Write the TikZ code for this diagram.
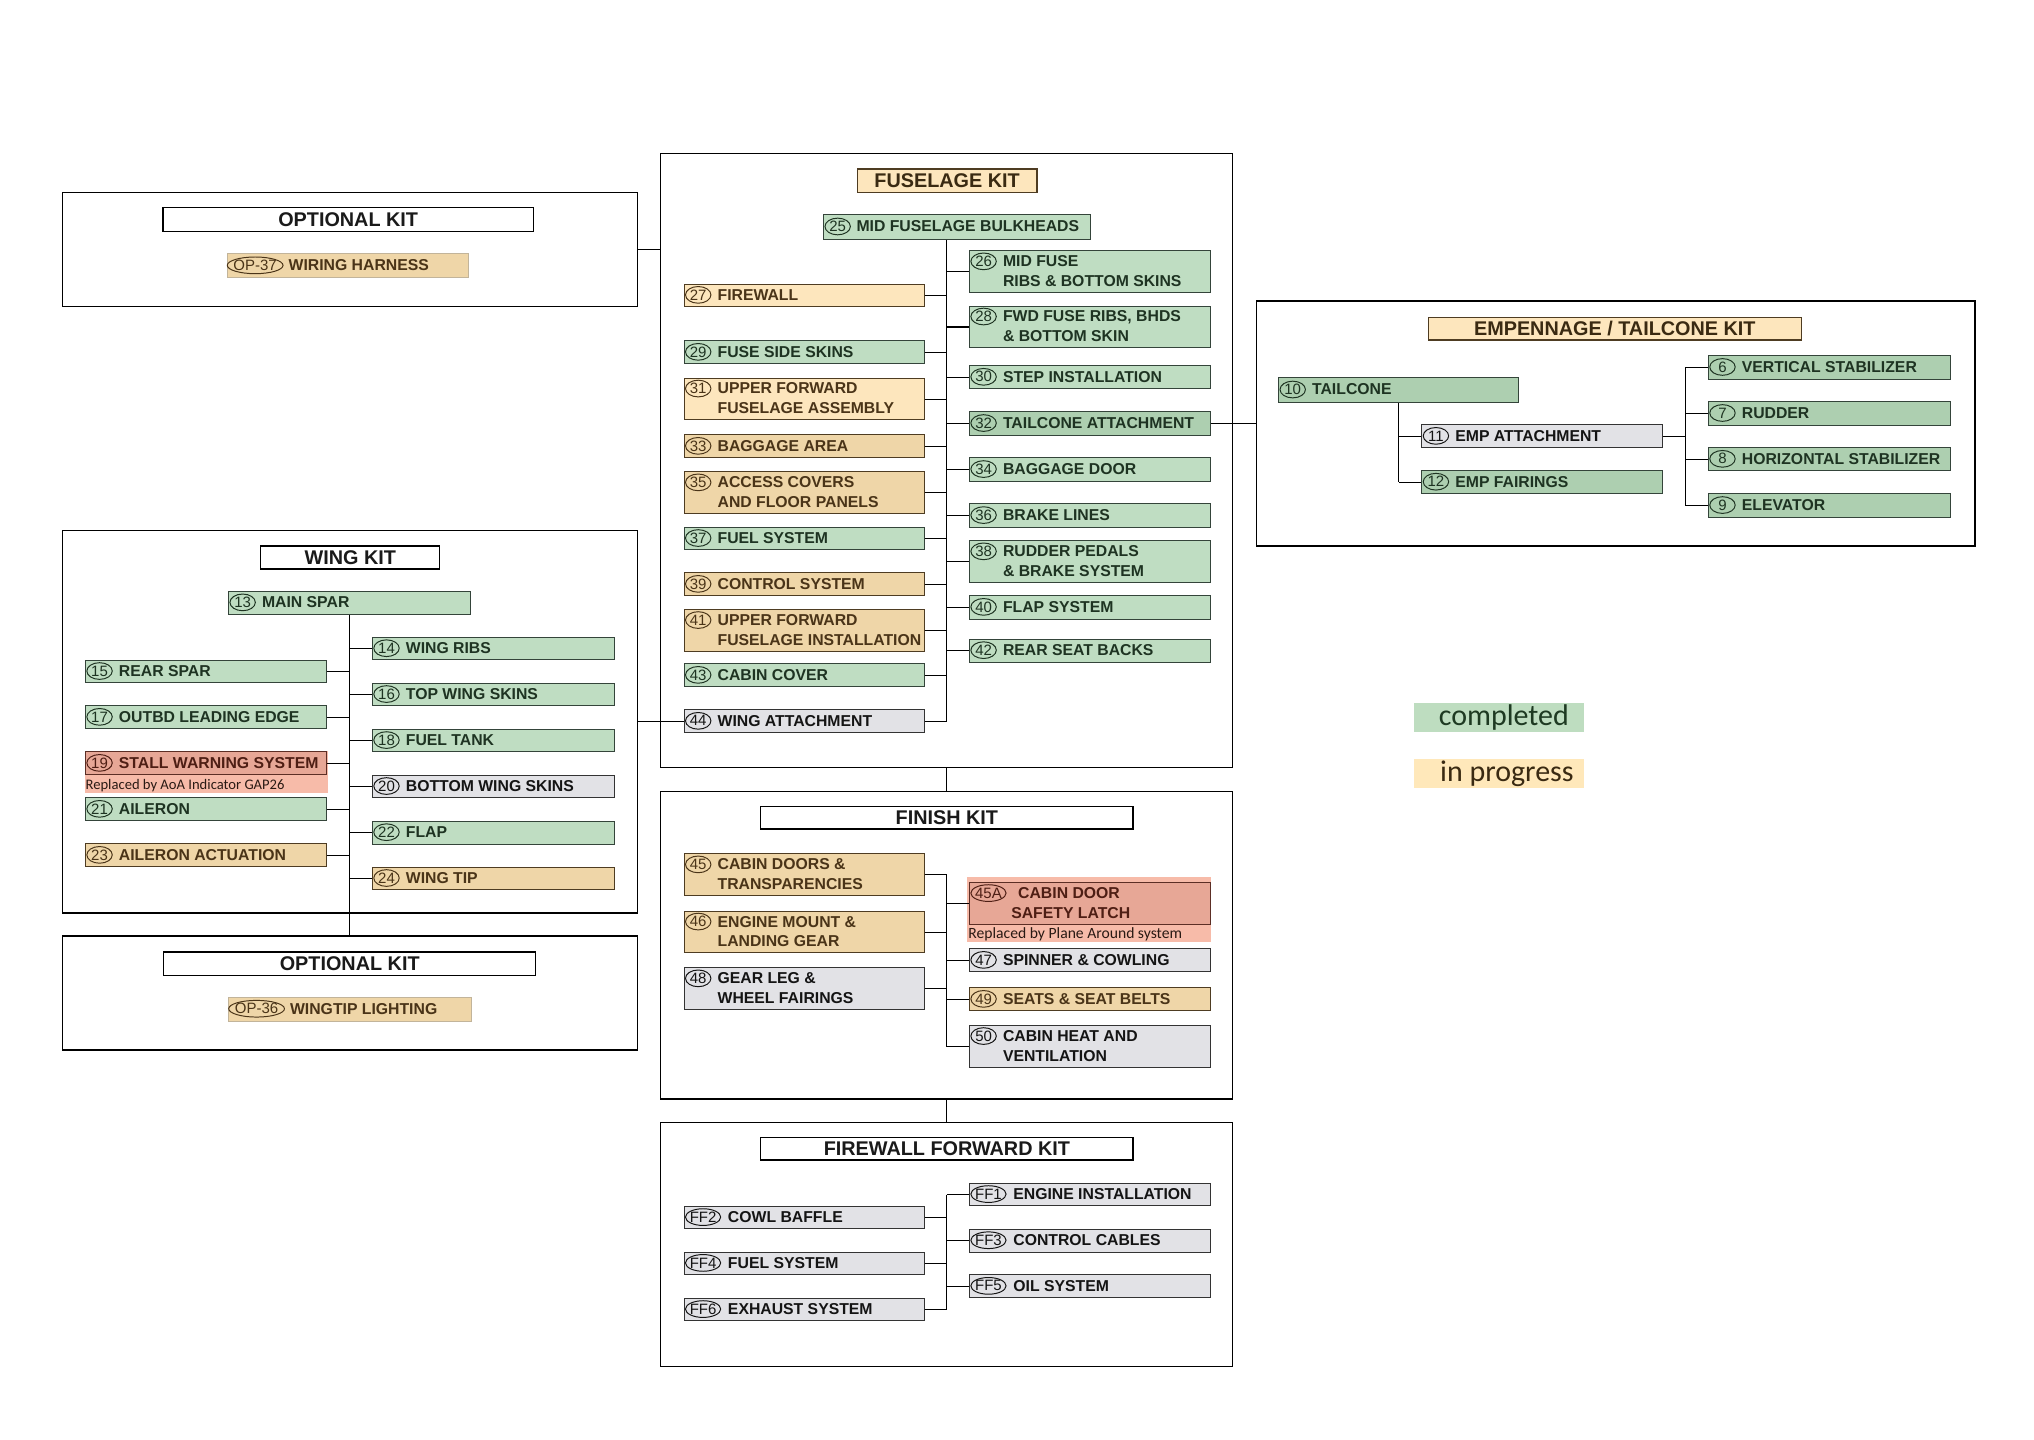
\documentclass[tikz,border=0pt]{standalone}
\usepackage{fontspec}
\setmainfont{Liberation Sans}
\newfontfamily\legfont{Carlito}
\usetikzlibrary{shapes.geometric}

\definecolor{grn}{HTML}{BFDDC2}
\definecolor{grn2}{HTML}{ADCFB0}
\definecolor{grnB}{HTML}{34443A}
\definecolor{grnT}{HTML}{1E3322}
\definecolor{tanL}{HTML}{FDE6BD}
\definecolor{tanD}{HTML}{EFD6A8}
\definecolor{brnB}{HTML}{4E3C22}
\definecolor{brnT}{HTML}{4A3418}
\definecolor{gry}{HTML}{E2E2E6}
\definecolor{gryB}{HTML}{333333}
\definecolor{gryT}{HTML}{141414}
\definecolor{redF}{HTML}{E7A796}
\definecolor{redB}{HTML}{5C2E25}
\definecolor{redT}{HTML}{4E1E14}
\definecolor{redBand}{HTML}{F7BBA9}
\definecolor{opB}{HTML}{C2B49A}
\definecolor{ttlTx}{HTML}{1A1A1A}
\definecolor{ttlTan}{HTML}{3A2A12}
\definecolor{legG}{HTML}{BEDDC0}
\definecolor{legT}{HTML}{FFE8BA}
\definecolor{legGT}{HTML}{1E3A22}
\definecolor{noteT}{HTML}{2A1A14}

\def\sx{0.9949}

\tikzset{
  numw/.store in=\numw,
  txo/.store in=\txo,
  twoline/.code={\def\nshift{7.65}},
  ibox/.style={draw,rectangle,line width=0.8pt,inner sep=0pt},
  Gbox/.style={fill=grn,draw=grnB},
  G2box/.style={fill=grn2,draw=grnB},
  Tbox/.style={fill=tanL,draw=brnB},
  Dbox/.style={fill=tanD,draw=brnB},
  Obox/.style={fill=tanD,draw=opB,line width=0.5pt},
  Ybox/.style={fill=gry,draw=gryB},
  Rbox/.style={fill=redF,draw=redB},
  Gtxt/.style={color=grnT},
  G2txt/.style={color=grnT},
  Ttxt/.style={color=brnT},
  Dtxt/.style={color=brnT},
  Otxt/.style={color=brnT},
  Ytxt/.style={color=gryT},
  Rtxt/.style={color=redT},
  numel/.style={draw,ellipse,line width=0.75pt,inner ysep=0pt,inner xsep=-1.5pt,
    minimum height=12.8pt,font=\fontsize{11.5}{12}\selectfont},
  itxt/.style={inner sep=0pt,align=left,font=\fontsize{12.1}{15.3}\selectfont\bfseries},
  kitbox/.style={draw=black,line width=0.9pt,rectangle,inner sep=0pt},
  tbox/.style={rectangle,line width=0.9pt,inner sep=0pt,font=\fontsize{15.2}{17}\selectfont\bfseries},
  ttlW/.style={fill=white,draw=black,text=ttlTx},
  ttlT/.style={fill=tanL,draw=brnB,text=ttlTan},
  conn/.style={draw=black,line width=0.8pt},
  note/.style={inner sep=0pt,text=noteT},
}

\newcommand\itm[9][]{%
  \def\numw{19.5}\def\txo{26}\def\nshift{0}\tikzset{#1}%
  \node[ibox,#3box,minimum width={(#6-#4)*\sx},minimum height={#7-#5},anchor=north west] (#2) at (#4,#5) {};
  \node[numel,#3txt,minimum width=\numw] (#2n) at ({#4+1.5+\numw/2},{(#5+#7)/2-\nshift}) {#8};
  \node[itxt,#3txt,anchor=west] (#2t) at ({#4+\txo},{(#5+#7)/2}) {#9};
}
\newcommand\ttl[7]{\node[tbox,#2,minimum width={(#5-#3)*\sx},minimum height={#6-#4},anchor=north west] (#1) at (#3,#4) {#7};}
\newcommand\kit[5]{\node[kitbox,minimum width={(#4-#2)*\sx},minimum height={#5-#3},anchor=north west] (#1) at (#2,#3) {};}

\begin{document}
\begin{tikzpicture}[x=0.9949pt,y=-1pt]
\useasboundingbox[fill=white] (0,0) rectangle (1568,1103.7);

% ---------- kit frames ----------
\kit{opt1}{48}{147.5}{491}{234.9}
\kit{fus}{509}{117.1}{949.5}{588.5}
\kit{emp}{968}{230.4}{1522}{418.3}
\kit{wing}{48}{406.5}{491}{699.8}
\kit{opt2}{48}{717.4}{491}{804.8}
\kit{fin}{509}{606.5}{949.5}{842.4}
\kit{ff}{509}{860.3}{949.5}{1047.7}

% ---------- titles ----------
\ttl{topt1}{ttlW}{125.2}{159}{410.7}{176.9}{OPTIONAL KIT}
\ttl{tfus}{ttlT}{660.3}{129.1}{799}{147}{FUSELAGE KIT}
\ttl{temp}{ttlT}{1100.5}{242.9}{1388.3}{260.3}{EMPENNAGE / TAILCONE KIT}
\ttl{twing}{ttlW}{200.6}{418.3}{338.6}{435.9}{WING KIT}
\ttl{topt2}{ttlW}{125.7}{729.7}{412.6}{747.6}{OPTIONAL KIT}
\ttl{tfin}{ttlW}{586}{618}{873}{635.3}{FINISH KIT}
\ttl{tff}{ttlW}{586}{871.8}{873}{889.2}{FIREWALL FORWARD KIT}

% ---------- optional kits ----------
\itm[numw=41,txo=47.6]{op37}{O}{174.7}{194.3}{361}{212.7}{OP-37}{WIRING HARNESS}
\itm[numw=41,txo=47.6]{op36}{O}{175.8}{764.4}{362.8}{782.9}{OP-36}{WINGTIP LIGHTING}

% ---------- fuselage kit ----------
\itm[txo=25.6]{n25}{G}{634.5}{164.1}{840}{183.3}{25}{MID FUSELAGE BULKHEADS}
\itm{n27}{T}{527}{217.6}{712}{234.7}{27}{FIREWALL}
\itm{n29}{G}{527}{261.0}{712}{278.7}{29}{FUSE SIDE SKINS}
\itm[twoline]{n31}{T}{527}{289.7}{712}{321.6}{31}{UPPER FORWARD\\FUSELAGE ASSEMBLY}
\itm{n33}{D}{527}{333.1}{712}{350.8}{33}{BAGGAGE AREA}
\itm[twoline]{n35}{D}{527}{361.5}{712}{393.7}{35}{ACCESS COVERS\\AND FLOOR PANELS}
\itm{n37}{G}{527}{404.0}{712}{421.3}{37}{FUEL SYSTEM}
\itm{n39}{D}{527}{439.0}{712}{456.6}{39}{CONTROL SYSTEM}
\itm[twoline]{n41}{D}{527}{467.3}{712}{499.1}{41}{UPPER FORWARD\\FUSELAGE INSTALLATION}
\itm{n43}{G}{527}{508.8}{712}{526.4}{43}{CABIN COVER}
\itm{n44}{Y}{527}{544.0}{712}{561.7}{44}{WING ATTACHMENT}

\itm[twoline]{n26}{G}{747}{192.0}{932.5}{224.2}{26}{MID FUSE\\RIBS \& BOTTOM SKINS}
\itm[twoline]{n28}{G}{747}{234.4}{932.5}{266.4}{28}{FWD FUSE RIBS, BHDS\\\& BOTTOM SKIN}
\itm{n30}{G}{747}{280.2}{932.5}{297.8}{30}{STEP INSTALLATION}
\itm{n32}{G2}{747}{315.5}{932.5}{333.4}{32}{TAILCONE ATTACHMENT}
\itm{n34}{G}{747}{350.8}{932.5}{368.7}{34}{BAGGAGE DOOR}
\itm{n36}{G}{747}{386.1}{932.5}{404.0}{36}{BRAKE LINES}
\itm[twoline]{n38}{G}{747}{414.4}{932.5}{446.6}{38}{RUDDER PEDALS\\\& BRAKE SYSTEM}
\itm{n40}{G}{747}{456.4}{932.5}{474.5}{40}{FLAP SYSTEM}
\itm{n42}{G}{747}{489.8}{932.5}{507.5}{42}{REAR SEAT BACKS}

% ---------- empennage ----------
\itm{e10}{G2}{985.3}{289.4}{1170.4}{308.1}{10}{TAILCONE}
\itm{e11}{Y}{1095.7}{325.5}{1281.3}{343.1}{11}{EMP ATTACHMENT}
\itm{e12}{G2}{1095.7}{360.5}{1281.3}{378.4}{12}{EMP FAIRINGS}
\itm{e6}{G2}{1316.6}{272.5}{1503.3}{290.4}{6}{VERTICAL STABILIZER}
\itm{e7}{G2}{1316.6}{307.8}{1503.3}{325.7}{7}{RUDDER}
\itm{e8}{G2}{1316.6}{343.1}{1503.3}{360.7}{8}{HORIZONTAL STABILIZER}
\itm{e9}{G2}{1316.6}{378.4}{1503.3}{396.3}{9}{ELEVATOR}

% ---------- wing kit ----------
\fill[redBand] (65.5,576.3) rectangle (252.8,608.5);
\itm{w13}{G}{175.8}{453.1}{362.2}{470.9}{13}{MAIN SPAR}
\itm{w14}{G}{286.7}{488.6}{473.5}{505.7}{14}{WING RIBS}
\itm{w15}{G}{65.5}{506.0}{251.3}{523.3}{15}{REAR SPAR}
\itm{w16}{G}{286.7}{523.6}{473.5}{541.0}{16}{TOP WING SKINS}
\itm{w17}{G}{65.5}{541.0}{251.3}{558.6}{17}{OUTBD LEADING EDGE}
\itm{w18}{G}{286.7}{558.9}{473.5}{576.3}{18}{FUEL TANK}
\itm{w19}{R}{65.5}{576.3}{251.3}{593.9}{19}{STALL WARNING SYSTEM}
\node[note,anchor=base west,font=\legfont\fontsize{11.2}{12}\selectfont] (noteA) at (65.8,605.2) {Replaced by AoA Indicator GAP26};
\itm{w20}{Y}{286.7}{594.2}{473.5}{611.5}{20}{BOTTOM WING SKINS}
\itm{w21}{G}{65.5}{611.5}{251.3}{629.2}{21}{AILERON}
\itm{w22}{G}{286.7}{629.4}{473.5}{647.1}{22}{FLAP}
\itm{w23}{D}{65.5}{646.8}{251.3}{664.5}{23}{AILERON ACTUATION}
\itm{w24}{D}{286.7}{664.7}{473.5}{682.1}{24}{WING TIP}

% ---------- finish kit ----------
\fill[redBand] (745.7,672.9) rectangle (933.8,722.3);
\itm[twoline]{f45}{D}{527}{654.5}{712}{686.7}{45}{CABIN DOORS \&\\TRANSPARENCIES}
\itm[twoline]{f46}{D}{527}{698.5}{712}{730.4}{46}{ENGINE MOUNT \&\\LANDING GEAR}
\itm[twoline]{f48}{Y}{527}{741.9}{712}{774.1}{48}{GEAR LEG \&\\WHEEL FAIRINGS}
\itm[twoline,numw=27,txo=32.4]{f45A}{R}{747}{676.7}{932.5}{708.5}{45A}{\hspace*{5.3pt}CABIN DOOR\\SAFETY LATCH}
\node[note,anchor=base west,font=\legfont\fontsize{12}{13}\selectfont] (noteB) at (746.3,719.6) {Replaced by Plane Around system};
\itm{f47}{Y}{747}{727.4}{932.5}{745.0}{47}{SPINNER \& COWLING}
\itm{f49}{D}{747}{757.3}{932.5}{774.9}{49}{SEATS \& SEAT BELTS}
\itm[twoline]{f50}{Y}{747}{786.4}{932.5}{818.1}{50}{CABIN HEAT AND\\VENTILATION}

% ---------- firewall forward kit ----------
\itm[numw=27,txo=34]{ff2}{Y}{527}{925.0}{712}{941.9}{FF2}{COWL BAFFLE}
\itm[numw=27,txo=34]{ff4}{Y}{527}{960.0}{712}{977.2}{FF4}{FUEL SYSTEM}
\itm[numw=27,txo=34]{ff6}{Y}{527}{995.3}{712}{1012.7}{FF6}{EXHAUST SYSTEM}
\itm[numw=27,txo=34]{ff1}{Y}{747}{907.1}{932.5}{924.5}{FF1}{ENGINE INSTALLATION}
\itm[numw=27,txo=34]{ff3}{Y}{747}{942.4}{932.5}{960.0}{FF3}{CONTROL CABLES}
\itm[numw=27,txo=34]{ff5}{Y}{747}{977.4}{932.5}{995.0}{FF5}{OIL SYSTEM}

% ---------- legend ----------
\node[fill=legG,rectangle,inner sep=0pt,minimum width=130.3pt,minimum height=22.5pt,anchor=north west] (legc) at (1090,539) {};
\node[inner sep=0pt,anchor=base west,text=legGT,font=\legfont\fontsize{23}{25}\selectfont] (legct) at (1109,556.3) {completed};
\node[fill=legT,rectangle,inner sep=0pt,minimum width=130.3pt,minimum height=22.5pt,anchor=north west] (legp) at (1090,582) {};
\node[inner sep=0pt,anchor=base west,text=ttlTan,font=\legfont\fontsize{23}{25}\selectfont] (legpt) at (1110,599.1) {in progress};

% ---------- connectors ----------
\coordinate (ft) at (730,0);
\coordinate (wt) at (269.1,0);
\coordinate (et1) at (1078.4,0);
\coordinate (et2) at (1299.4,0);

% kit links
\draw[conn] (opt1.east) -- (opt1.east -| fus.west);
\draw[conn] (n44.west) -- (n44.west -| wing.east);
\draw[conn] (n32.east) -- (n32.east -| emp.west);
\draw[conn] (ft |- fus.south) -- (ft |- fin.north);
\draw[conn] (ft |- fin.south) -- (ft |- ff.north);
\draw[conn] (wt |- w13.south) -- (wt |- opt2.north);

% fuselage tree
\draw[conn] (ft |- n25.south) -- (ft |- n44.east);
\foreach \n in {n27,n29,n31,n33,n35,n37,n39,n41,n43,n44}
  \draw[conn] (\n.east) -- (\n.east -| ft);
\foreach \n in {n26,n28,n30,n32,n34,n36,n38,n40,n42}
  \draw[conn] (ft |- \n.west) -- (\n.west);

% wing tree
\foreach \n in {w15,w17,w19,w21,w23}
  \draw[conn] (\n.east) -- (\n.east -| wt);
\foreach \n in {w14,w16,w18,w20,w22,w24}
  \draw[conn] (wt |- \n.west) -- (\n.west);

% empennage tree
\draw[conn] (et1 |- e10.south) -- (et1 |- e12.west);
\draw[conn] (et1 |- e11.west) -- (e11.west);
\draw[conn] (et1 |- e12.west) -- (e12.west);
\draw[conn] (e11.east) -- (e11.east -| et2);
\draw[conn] (et2 |- e6.west) -- (et2 |- e9.west);
\foreach \n in {e6,e7,e8,e9}
  \draw[conn] (et2 |- \n.west) -- (\n.west);

% finish tree
\draw[conn] (ft |- f45.east) -- (ft |- f50.west);
\foreach \n in {f45,f46,f48}
  \draw[conn] (\n.east) -- (\n.east -| ft);
\foreach \n in {f45A,f47,f49,f50}
  \draw[conn] (ft |- \n.west) -- (\n.west);

% firewall forward tree
\draw[conn] (ft |- ff1.west) -- (ft |- ff6.east);
\foreach \n in {ff2,ff4,ff6}
  \draw[conn] (\n.east) -- (\n.east -| ft);
\foreach \n in {ff1,ff3,ff5}
  \draw[conn] (ft |- \n.west) -- (\n.west);
\end{tikzpicture}
\end{document}
